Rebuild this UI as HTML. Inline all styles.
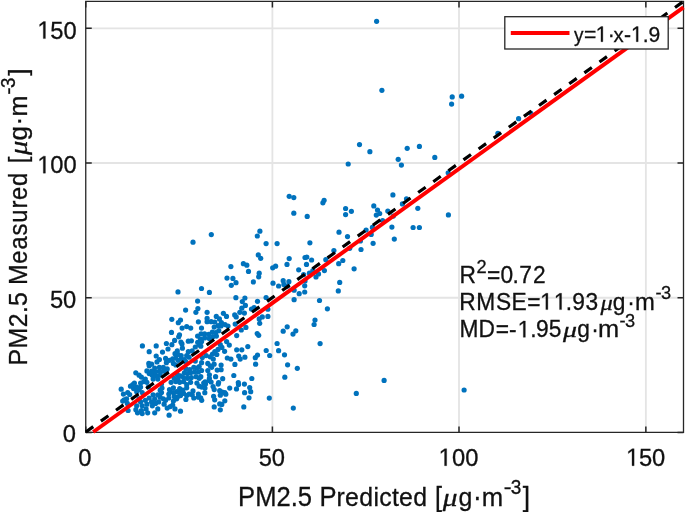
<!DOCTYPE html>
<html><head><meta charset="utf-8"><style>
html,body{margin:0;padding:0;background:#fff;width:685px;height:512px;overflow:hidden}
svg{display:block;will-change:transform}
text{fill:#111;stroke:#111;stroke-width:0.3px}
</style></head><body>
<svg width="685" height="512" viewBox="0 0 685 512">
<rect x="0" y="0" width="685" height="512" fill="#fff"/>
<path d="M272.40 1.40V432.45 M85.75 297.75H683.50 M459.00 1.40V432.45 M85.75 163.00H683.50 M645.85 1.40V432.45 M85.75 28.35H683.50" stroke="#e4e4e4" stroke-width="1.8" fill="none"/>
<g fill="#0072bd"><circle cx="169.5" cy="389.5" r="2.6"/><circle cx="161.5" cy="392.5" r="2.6"/><circle cx="162.0" cy="388.0" r="2.6"/><circle cx="161.5" cy="384.0" r="2.6"/><circle cx="233.8" cy="375.5" r="2.6"/><circle cx="222.7" cy="378.7" r="2.6"/><circle cx="215.6" cy="376.7" r="2.6"/><circle cx="209.4" cy="378.3" r="2.6"/><circle cx="209.4" cy="374.8" r="2.6"/><circle cx="200.8" cy="376.7" r="2.6"/><circle cx="207.8" cy="370.5" r="2.6"/><circle cx="201.6" cy="370.5" r="2.6"/><circle cx="221.1" cy="369.7" r="2.6"/><circle cx="217.2" cy="370.1" r="2.6"/><circle cx="221.1" cy="365.0" r="2.6"/><circle cx="211.7" cy="367.3" r="2.6"/><circle cx="214.1" cy="364.2" r="2.6"/><circle cx="210.2" cy="365.8" r="2.6"/><circle cx="207.8" cy="363.4" r="2.6"/><circle cx="201.6" cy="362.7" r="2.6"/><circle cx="234.9" cy="364.4" r="2.6"/><circle cx="244.9" cy="357.2" r="2.6"/><circle cx="240.2" cy="359.1" r="2.6"/><circle cx="238.7" cy="356.0" r="2.6"/><circle cx="230.9" cy="359.1" r="2.6"/><circle cx="227.3" cy="358.0" r="2.6"/><circle cx="247.8" cy="346.6" r="2.6"/><circle cx="241.8" cy="349.8" r="2.6"/><circle cx="236.7" cy="349.8" r="2.6"/><circle cx="229.3" cy="345.1" r="2.6"/><circle cx="226.6" cy="341.6" r="2.6"/><circle cx="224.6" cy="351.3" r="2.6"/><circle cx="202.3" cy="357.6" r="2.6"/><circle cx="206.2" cy="355.6" r="2.6"/><circle cx="213.3" cy="359.1" r="2.6"/><circle cx="210.2" cy="356.8" r="2.6"/><circle cx="212.5" cy="354.1" r="2.6"/><circle cx="216.8" cy="354.5" r="2.6"/><circle cx="214.8" cy="351.7" r="2.6"/><circle cx="218.0" cy="349.4" r="2.6"/><circle cx="221.9" cy="347.4" r="2.6"/><circle cx="220.3" cy="344.7" r="2.6"/><circle cx="201.6" cy="341.6" r="2.6"/><circle cx="200.8" cy="346.2" r="2.6"/><circle cx="145.3" cy="379.1" r="2.6"/><circle cx="141.4" cy="377.1" r="2.6"/><circle cx="139.1" cy="375.2" r="2.6"/><circle cx="135.8" cy="372.8" r="2.6"/><circle cx="149.2" cy="373.6" r="2.6"/><circle cx="146.9" cy="370.9" r="2.6"/><circle cx="149.2" cy="365.8" r="2.6"/><circle cx="148.8" cy="363.4" r="2.6"/><circle cx="149.2" cy="351.7" r="2.6"/><circle cx="142.4" cy="345.9" r="2.6"/><circle cx="178.1" cy="379.1" r="2.6"/><circle cx="174.2" cy="378.3" r="2.6"/><circle cx="199.2" cy="378.3" r="2.6"/><circle cx="196.1" cy="376.7" r="2.6"/><circle cx="191.4" cy="377.5" r="2.6"/><circle cx="187.5" cy="378.3" r="2.6"/><circle cx="183.6" cy="377.5" r="2.6"/><circle cx="180.5" cy="375.9" r="2.6"/><circle cx="177.3" cy="374.4" r="2.6"/><circle cx="198.4" cy="372.0" r="2.6"/><circle cx="194.5" cy="372.0" r="2.6"/><circle cx="190.6" cy="372.8" r="2.6"/><circle cx="187.5" cy="373.6" r="2.6"/><circle cx="184.4" cy="372.8" r="2.6"/><circle cx="199.2" cy="366.6" r="2.6"/><circle cx="196.9" cy="368.1" r="2.6"/><circle cx="193.8" cy="367.3" r="2.6"/><circle cx="189.8" cy="369.7" r="2.6"/><circle cx="185.9" cy="368.9" r="2.6"/><circle cx="157.8" cy="379.1" r="2.6"/><circle cx="153.1" cy="379.1" r="2.6"/><circle cx="160.2" cy="375.2" r="2.6"/><circle cx="156.2" cy="375.9" r="2.6"/><circle cx="152.3" cy="375.2" r="2.6"/><circle cx="166.4" cy="372.0" r="2.6"/><circle cx="163.3" cy="371.2" r="2.6"/><circle cx="159.4" cy="371.2" r="2.6"/><circle cx="155.5" cy="372.0" r="2.6"/><circle cx="151.6" cy="371.2" r="2.6"/><circle cx="167.2" cy="368.9" r="2.6"/><circle cx="163.3" cy="367.3" r="2.6"/><circle cx="159.4" cy="367.3" r="2.6"/><circle cx="154.7" cy="368.1" r="2.6"/><circle cx="195.3" cy="361.1" r="2.6"/><circle cx="151.6" cy="364.2" r="2.6"/><circle cx="175.8" cy="365.0" r="2.6"/><circle cx="173.4" cy="363.4" r="2.6"/><circle cx="166.4" cy="362.7" r="2.6"/><circle cx="185.9" cy="361.9" r="2.6"/><circle cx="184.4" cy="359.5" r="2.6"/><circle cx="181.2" cy="358.8" r="2.6"/><circle cx="178.1" cy="360.3" r="2.6"/><circle cx="175.8" cy="358.0" r="2.6"/><circle cx="172.7" cy="358.8" r="2.6"/><circle cx="169.5" cy="360.3" r="2.6"/><circle cx="157.0" cy="361.9" r="2.6"/><circle cx="159.4" cy="359.5" r="2.6"/><circle cx="165.6" cy="358.4" r="2.6"/><circle cx="189.1" cy="357.2" r="2.6"/><circle cx="186.7" cy="355.6" r="2.6"/><circle cx="181.2" cy="355.6" r="2.6"/><circle cx="178.1" cy="354.5" r="2.6"/><circle cx="175.0" cy="353.7" r="2.6"/><circle cx="156.2" cy="356.0" r="2.6"/><circle cx="192.2" cy="350.9" r="2.6"/><circle cx="188.3" cy="351.7" r="2.6"/><circle cx="177.3" cy="350.9" r="2.6"/><circle cx="162.5" cy="352.1" r="2.6"/><circle cx="195.3" cy="347.0" r="2.6"/><circle cx="182.4" cy="348.2" r="2.6"/><circle cx="199.2" cy="344.7" r="2.6"/><circle cx="197.7" cy="342.3" r="2.6"/><circle cx="191.4" cy="340.8" r="2.6"/><circle cx="188.3" cy="341.2" r="2.6"/><circle cx="182.0" cy="343.9" r="2.6"/><circle cx="180.9" cy="342.0" r="2.6"/><circle cx="174.6" cy="340.4" r="2.6"/><circle cx="168.0" cy="349.0" r="2.6"/><circle cx="171.9" cy="344.7" r="2.6"/><circle cx="166.4" cy="343.5" r="2.6"/><circle cx="156.2" cy="345.9" r="2.6"/><circle cx="198.4" cy="397.2" r="2.6"/><circle cx="193.8" cy="398.0" r="2.6"/><circle cx="192.2" cy="394.8" r="2.6"/><circle cx="185.9" cy="399.5" r="2.6"/><circle cx="189.1" cy="394.1" r="2.6"/><circle cx="186.7" cy="395.6" r="2.6"/><circle cx="183.6" cy="393.3" r="2.6"/><circle cx="169.1" cy="415.2" r="2.6"/><circle cx="180.5" cy="411.2" r="2.6"/><circle cx="175.0" cy="408.9" r="2.6"/><circle cx="170.3" cy="406.6" r="2.6"/><circle cx="167.2" cy="408.1" r="2.6"/><circle cx="172.7" cy="405.0" r="2.6"/><circle cx="176.6" cy="398.8" r="2.6"/><circle cx="173.4" cy="401.1" r="2.6"/><circle cx="180.5" cy="395.6" r="2.6"/><circle cx="177.3" cy="397.2" r="2.6"/><circle cx="174.2" cy="396.4" r="2.6"/><circle cx="179.7" cy="393.3" r="2.6"/><circle cx="176.6" cy="391.7" r="2.6"/><circle cx="173.4" cy="392.5" r="2.6"/><circle cx="157.8" cy="408.9" r="2.6"/><circle cx="154.7" cy="412.8" r="2.6"/><circle cx="170.3" cy="391.7" r="2.6"/><circle cx="168.8" cy="394.1" r="2.6"/><circle cx="168.8" cy="398.0" r="2.6"/><circle cx="164.1" cy="404.2" r="2.6"/><circle cx="165.6" cy="400.3" r="2.6"/><circle cx="163.3" cy="398.8" r="2.6"/><circle cx="152.3" cy="405.8" r="2.6"/><circle cx="158.6" cy="401.9" r="2.6"/><circle cx="155.5" cy="403.4" r="2.6"/><circle cx="151.6" cy="401.9" r="2.6"/><circle cx="160.2" cy="397.2" r="2.6"/><circle cx="157.8" cy="394.8" r="2.6"/><circle cx="154.7" cy="398.8" r="2.6"/><circle cx="153.1" cy="394.8" r="2.6"/><circle cx="160.2" cy="390.2" r="2.6"/><circle cx="198.4" cy="394.1" r="2.6"/><circle cx="193.0" cy="390.9" r="2.6"/><circle cx="186.7" cy="387.8" r="2.6"/><circle cx="182.8" cy="390.2" r="2.6"/><circle cx="179.7" cy="388.6" r="2.6"/><circle cx="173.4" cy="387.8" r="2.6"/><circle cx="199.2" cy="386.2" r="2.6"/><circle cx="196.9" cy="383.1" r="2.6"/><circle cx="190.6" cy="382.3" r="2.6"/><circle cx="186.7" cy="384.7" r="2.6"/><circle cx="183.6" cy="381.6" r="2.6"/><circle cx="179.7" cy="382.3" r="2.6"/><circle cx="175.8" cy="381.6" r="2.6"/><circle cx="171.1" cy="382.3" r="2.6"/><circle cx="139.1" cy="398.8" r="2.6"/><circle cx="149.2" cy="398.0" r="2.6"/><circle cx="147.7" cy="412.8" r="2.6"/><circle cx="146.1" cy="408.9" r="2.6"/><circle cx="146.9" cy="404.2" r="2.6"/><circle cx="145.3" cy="400.3" r="2.6"/><circle cx="142.2" cy="413.6" r="2.6"/><circle cx="141.4" cy="410.5" r="2.6"/><circle cx="142.2" cy="405.8" r="2.6"/><circle cx="140.6" cy="401.9" r="2.6"/><circle cx="137.5" cy="412.8" r="2.6"/><circle cx="135.9" cy="409.7" r="2.6"/><circle cx="136.7" cy="405.8" r="2.6"/><circle cx="148.4" cy="387.0" r="2.6"/><circle cx="146.9" cy="382.3" r="2.6"/><circle cx="142.2" cy="392.5" r="2.6"/><circle cx="143.8" cy="381.6" r="2.6"/><circle cx="140.6" cy="383.1" r="2.6"/><circle cx="140.6" cy="387.0" r="2.6"/><circle cx="139.1" cy="389.4" r="2.6"/><circle cx="136.7" cy="391.7" r="2.6"/><circle cx="133.6" cy="388.6" r="2.6"/><circle cx="136.7" cy="387.0" r="2.6"/><circle cx="134.4" cy="383.1" r="2.6"/><circle cx="132.8" cy="384.7" r="2.6"/><circle cx="130.5" cy="386.2" r="2.6"/><circle cx="128.1" cy="410.5" r="2.6"/><circle cx="127.3" cy="403.4" r="2.6"/><circle cx="126.6" cy="398.8" r="2.6"/><circle cx="124.2" cy="399.9" r="2.6"/><circle cx="122.7" cy="401.1" r="2.6"/><circle cx="129.7" cy="394.5" r="2.6"/><circle cx="127.7" cy="392.5" r="2.6"/><circle cx="123.4" cy="394.1" r="2.6"/><circle cx="121.2" cy="389.2" r="2.6"/><circle cx="201.7" cy="400.3" r="2.6"/><circle cx="200.7" cy="397.8" r="2.6"/><circle cx="201.7" cy="387.1" r="2.6"/><circle cx="204.8" cy="392.7" r="2.6"/><circle cx="203.7" cy="383.0" r="2.6"/><circle cx="243.8" cy="406.9" r="2.6"/><circle cx="249.0" cy="397.8" r="2.6"/><circle cx="250.7" cy="391.7" r="2.6"/><circle cx="249.7" cy="387.6" r="2.6"/><circle cx="244.6" cy="392.7" r="2.6"/><circle cx="244.4" cy="384.1" r="2.6"/><circle cx="236.5" cy="388.9" r="2.6"/><circle cx="238.5" cy="384.6" r="2.6"/><circle cx="229.7" cy="388.1" r="2.6"/><circle cx="220.3" cy="409.8" r="2.6"/><circle cx="214.2" cy="406.9" r="2.6"/><circle cx="221.8" cy="404.4" r="2.6"/><circle cx="219.7" cy="403.9" r="2.6"/><circle cx="224.8" cy="400.8" r="2.6"/><circle cx="214.7" cy="399.8" r="2.6"/><circle cx="213.6" cy="396.3" r="2.6"/><circle cx="220.3" cy="395.2" r="2.6"/><circle cx="225.8" cy="394.2" r="2.6"/><circle cx="224.8" cy="392.7" r="2.6"/><circle cx="222.3" cy="392.2" r="2.6"/><circle cx="219.7" cy="390.7" r="2.6"/><circle cx="218.2" cy="384.1" r="2.6"/><circle cx="214.2" cy="389.6" r="2.6"/><circle cx="213.1" cy="386.6" r="2.6"/><circle cx="205.0" cy="388.1" r="2.6"/><circle cx="205.5" cy="384.1" r="2.6"/><circle cx="211.1" cy="382.0" r="2.6"/><circle cx="209.1" cy="380.5" r="2.6"/><circle cx="269.3" cy="398.1" r="2.6"/><circle cx="284.8" cy="377.2" r="2.6"/><circle cx="297.3" cy="368.3" r="2.6"/><circle cx="287.6" cy="364.8" r="2.6"/><circle cx="284.5" cy="354.8" r="2.6"/><circle cx="278.6" cy="350.7" r="2.6"/><circle cx="255.6" cy="364.2" r="2.6"/><circle cx="255.3" cy="357.7" r="2.6"/><circle cx="257.5" cy="355.1" r="2.6"/><circle cx="269.7" cy="355.5" r="2.6"/><circle cx="266.2" cy="350.5" r="2.6"/><circle cx="238.3" cy="382.5" r="2.6"/><circle cx="218.6" cy="382.5" r="2.6"/><circle cx="205.1" cy="381.8" r="2.6"/><circle cx="251.8" cy="378.5" r="2.6"/><circle cx="200.5" cy="339.1" r="2.6"/><circle cx="204.6" cy="337.9" r="2.6"/><circle cx="209.3" cy="338.5" r="2.6"/><circle cx="212.8" cy="336.7" r="2.6"/><circle cx="216.4" cy="336.1" r="2.6"/><circle cx="215.8" cy="332.6" r="2.6"/><circle cx="212.3" cy="332.0" r="2.6"/><circle cx="208.7" cy="334.4" r="2.6"/><circle cx="204.6" cy="333.8" r="2.6"/><circle cx="201.1" cy="333.8" r="2.6"/><circle cx="197.6" cy="336.1" r="2.6"/><circle cx="221.0" cy="325.9" r="2.6"/><circle cx="218.1" cy="325.6" r="2.6"/><circle cx="178.7" cy="336.8" r="2.6"/><circle cx="179.5" cy="334.8" r="2.6"/><circle cx="171.5" cy="332.4" r="2.6"/><circle cx="201.5" cy="328.1" r="2.6"/><circle cx="190.7" cy="328.1" r="2.6"/><circle cx="186.7" cy="326.6" r="2.6"/><circle cx="182.1" cy="328.1" r="2.6"/><circle cx="218.8" cy="330.7" r="2.6"/><circle cx="214.2" cy="327.1" r="2.6"/><circle cx="225.0" cy="324.6" r="2.6"/><circle cx="221.4" cy="322.5" r="2.6"/><circle cx="219.4" cy="318.9" r="2.6"/><circle cx="216.3" cy="316.4" r="2.6"/><circle cx="214.8" cy="322.0" r="2.6"/><circle cx="211.2" cy="321.7" r="2.6"/><circle cx="207.1" cy="321.7" r="2.6"/><circle cx="207.1" cy="318.4" r="2.6"/><circle cx="198.4" cy="321.8" r="2.6"/><circle cx="178.3" cy="322.7" r="2.6"/><circle cx="180.5" cy="320.0" r="2.6"/><circle cx="171.8" cy="319.3" r="2.6"/><circle cx="223.4" cy="313.3" r="2.6"/><circle cx="207.1" cy="312.3" r="2.6"/><circle cx="195.9" cy="312.3" r="2.6"/><circle cx="197.9" cy="308.5" r="2.6"/><circle cx="185.6" cy="310.1" r="2.6"/><circle cx="277.1" cy="343.5" r="2.6"/><circle cx="283.2" cy="331.2" r="2.6"/><circle cx="236.7" cy="335.6" r="2.6"/><circle cx="258.7" cy="335.3" r="2.6"/><circle cx="257.2" cy="333.6" r="2.6"/><circle cx="241.3" cy="330.0" r="2.6"/><circle cx="245.9" cy="327.4" r="2.6"/><circle cx="228.0" cy="326.1" r="2.6"/><circle cx="235.2" cy="324.1" r="2.6"/><circle cx="259.7" cy="323.3" r="2.6"/><circle cx="259.2" cy="318.9" r="2.6"/><circle cx="267.9" cy="316.4" r="2.6"/><circle cx="262.3" cy="316.9" r="2.6"/><circle cx="226.5" cy="316.4" r="2.6"/><circle cx="236.2" cy="316.9" r="2.6"/><circle cx="234.7" cy="314.9" r="2.6"/><circle cx="267.9" cy="309.2" r="2.6"/><circle cx="254.1" cy="307.7" r="2.6"/><circle cx="251.5" cy="309.0" r="2.6"/><circle cx="244.4" cy="313.1" r="2.6"/><circle cx="239.8" cy="312.3" r="2.6"/><circle cx="241.8" cy="308.2" r="2.6"/><circle cx="245.4" cy="305.4" r="2.6"/><circle cx="197.6" cy="301.1" r="2.6"/><circle cx="209.4" cy="292.4" r="2.6"/><circle cx="201.5" cy="288.5" r="2.6"/><circle cx="178.0" cy="291.9" r="2.6"/><circle cx="257.5" cy="301.3" r="2.6"/><circle cx="242.3" cy="301.6" r="2.6"/><circle cx="266.1" cy="297.5" r="2.6"/><circle cx="244.9" cy="298.0" r="2.6"/><circle cx="235.9" cy="297.7" r="2.6"/><circle cx="283.9" cy="284.4" r="2.6"/><circle cx="283.2" cy="280.7" r="2.6"/><circle cx="278.6" cy="286.0" r="2.6"/><circle cx="273.0" cy="283.2" r="2.6"/><circle cx="253.4" cy="281.9" r="2.6"/><circle cx="231.3" cy="285.3" r="2.6"/><circle cx="236.0" cy="282.7" r="2.6"/><circle cx="232.9" cy="278.4" r="2.6"/><circle cx="227.0" cy="278.1" r="2.6"/><circle cx="258.7" cy="276.8" r="2.6"/><circle cx="293.3" cy="408.1" r="2.6"/><circle cx="356.3" cy="393.4" r="2.6"/><circle cx="384.1" cy="380.4" r="2.6"/><circle cx="320.1" cy="343.6" r="2.6"/><circle cx="293.0" cy="334.1" r="2.6"/><circle cx="295.8" cy="330.8" r="2.6"/><circle cx="287.2" cy="326.8" r="2.6"/><circle cx="314.1" cy="324.5" r="2.6"/><circle cx="315.0" cy="320.1" r="2.6"/><circle cx="327.4" cy="308.8" r="2.6"/><circle cx="319.5" cy="300.5" r="2.6"/><circle cx="294.1" cy="299.7" r="2.6"/><circle cx="338.3" cy="290.9" r="2.6"/><circle cx="339.7" cy="282.4" r="2.6"/><circle cx="304.7" cy="292.0" r="2.6"/><circle cx="299.2" cy="293.7" r="2.6"/><circle cx="294.1" cy="290.2" r="2.6"/><circle cx="305.0" cy="281.0" r="2.6"/><circle cx="304.7" cy="285.8" r="2.6"/><circle cx="287.5" cy="286.1" r="2.6"/><circle cx="288.9" cy="281.7" r="2.6"/><circle cx="316.0" cy="277.0" r="2.6"/><circle cx="312.8" cy="270.7" r="2.6"/><circle cx="275.6" cy="266.2" r="2.6"/><circle cx="272.7" cy="267.8" r="2.6"/><circle cx="259.2" cy="273.2" r="2.6"/><circle cx="248.5" cy="271.4" r="2.6"/><circle cx="246.8" cy="265.2" r="2.6"/><circle cx="243.4" cy="263.7" r="2.6"/><circle cx="230.9" cy="266.6" r="2.6"/><circle cx="260.7" cy="258.3" r="2.6"/><circle cx="258.3" cy="254.9" r="2.6"/><circle cx="277.1" cy="243.6" r="2.6"/><circle cx="266.1" cy="243.6" r="2.6"/><circle cx="257.3" cy="236.0" r="2.6"/><circle cx="259.9" cy="231.2" r="2.6"/><circle cx="193.0" cy="242.2" r="2.6"/><circle cx="211.3" cy="234.6" r="2.6"/><circle cx="303.6" cy="274.7" r="2.6"/><circle cx="318.5" cy="273.9" r="2.6"/><circle cx="309.4" cy="273.2" r="2.6"/><circle cx="324.4" cy="270.6" r="2.6"/><circle cx="298.7" cy="269.8" r="2.6"/><circle cx="354.1" cy="268.8" r="2.6"/><circle cx="338.7" cy="263.7" r="2.6"/><circle cx="342.8" cy="260.5" r="2.6"/><circle cx="325.8" cy="259.7" r="2.6"/><circle cx="306.5" cy="264.4" r="2.6"/><circle cx="311.6" cy="260.0" r="2.6"/><circle cx="306.8" cy="257.1" r="2.6"/><circle cx="305.0" cy="257.5" r="2.6"/><circle cx="287.0" cy="264.4" r="2.6"/><circle cx="289.2" cy="258.6" r="2.6"/><circle cx="333.9" cy="250.5" r="2.6"/><circle cx="349.7" cy="248.3" r="2.6"/><circle cx="361.0" cy="249.5" r="2.6"/><circle cx="309.9" cy="242.8" r="2.6"/><circle cx="373.1" cy="243.3" r="2.6"/><circle cx="360.4" cy="241.0" r="2.6"/><circle cx="371.2" cy="234.4" r="2.6"/><circle cx="372.4" cy="227.4" r="2.6"/><circle cx="366.1" cy="230.0" r="2.6"/><circle cx="347.5" cy="236.6" r="2.6"/><circle cx="339.0" cy="232.2" r="2.6"/><circle cx="382.6" cy="220.5" r="2.6"/><circle cx="376.3" cy="215.1" r="2.6"/><circle cx="379.7" cy="213.5" r="2.6"/><circle cx="377.5" cy="210.0" r="2.6"/><circle cx="373.8" cy="205.9" r="2.6"/><circle cx="345.6" cy="214.6" r="2.6"/><circle cx="351.4" cy="211.3" r="2.6"/><circle cx="345.6" cy="208.5" r="2.6"/><circle cx="307.2" cy="216.4" r="2.6"/><circle cx="293.8" cy="213.2" r="2.6"/><circle cx="394.3" cy="239.1" r="2.6"/><circle cx="419.4" cy="227.5" r="2.6"/><circle cx="413.1" cy="227.5" r="2.6"/><circle cx="391.9" cy="227.1" r="2.6"/><circle cx="448.4" cy="214.9" r="2.6"/><circle cx="417.8" cy="208.3" r="2.6"/><circle cx="393.3" cy="216.1" r="2.6"/><circle cx="387.8" cy="211.0" r="2.6"/><circle cx="402.4" cy="203.9" r="2.6"/><circle cx="406.5" cy="198.8" r="2.6"/><circle cx="392.9" cy="194.9" r="2.6"/><circle cx="448.2" cy="172.8" r="2.6"/><circle cx="401.4" cy="165.1" r="2.6"/><circle cx="398.2" cy="159.3" r="2.6"/><circle cx="434.8" cy="157.4" r="2.6"/><circle cx="419.4" cy="146.4" r="2.6"/><circle cx="407.2" cy="148.3" r="2.6"/><circle cx="322.9" cy="202.8" r="2.6"/><circle cx="324.1" cy="200.3" r="2.6"/><circle cx="293.8" cy="197.6" r="2.6"/><circle cx="289.2" cy="196.3" r="2.6"/><circle cx="348.2" cy="164.0" r="2.6"/><circle cx="369.9" cy="151.7" r="2.6"/><circle cx="359.5" cy="144.6" r="2.6"/><circle cx="464.1" cy="390.0" r="2.6"/><circle cx="530.7" cy="113.1" r="2.6"/><circle cx="497.9" cy="133.3" r="2.6"/><circle cx="518.6" cy="118.7" r="2.6"/><circle cx="451.6" cy="104.1" r="2.6"/><circle cx="461.6" cy="96.2" r="2.6"/><circle cx="452.2" cy="96.9" r="2.6"/><circle cx="381.9" cy="90.3" r="2.6"/><circle cx="376.6" cy="21.3" r="2.6"/></g>
<path d="M85.75 432.45v-6.0 M85.75 1.40v6.0 M85.75 432.45h6.0 M683.50 432.45h-6.0 M272.40 432.45v-6.0 M272.40 1.40v6.0 M85.75 297.75h6.0 M683.50 297.75h-6.0 M459.00 432.45v-6.0 M459.00 1.40v6.0 M85.75 163.00h6.0 M683.50 163.00h-6.0 M645.85 432.45v-6.0 M645.85 1.40v6.0 M85.75 28.35h6.0 M683.50 28.35h-6.0" stroke="#262626" stroke-width="1.5" fill="none"/>
<path d="M85.75 1.4H683.5V432.45H85.75Z" stroke="#262626" stroke-width="1.3" fill="none" stroke-linejoin="miter"/>
<line x1="85.80" y1="432.00" x2="683.40" y2="1.50" stroke="#000" stroke-width="3.2" stroke-dasharray="9.2 9.42"/><line x1="93.2" y1="432.0" x2="683.5" y2="7.31" stroke="#f00" stroke-width="4"/>
<text transform="scale(0.96 1)" x="65.49" y="442.20" font-size="24.7" font-family="'Liberation Sans', sans-serif">0</text><text transform="scale(0.96 1)" x="52.03 65.77" y="307.67" font-size="24.7" font-family="'Liberation Sans', sans-serif">50</text><text transform="scale(0.96 1)" x="52.47 66.03" y="173.14" font-size="24.7" font-family="'Liberation Sans', sans-serif">00</text><path d="M515 0L696 0L696 1409L530 1409L197 1180L197 1010L515 1237Z" transform="translate(37.35 173.14) scale(0.01158 -0.01206)" fill="#111" stroke="#111" stroke-width="0.3" vector-effect="non-scaling-stroke"/><text transform="scale(0.96 1)" x="52.47 66.03" y="38.61" font-size="24.7" font-family="'Liberation Sans', sans-serif">50</text><path d="M515 0L696 0L696 1409L530 1409L197 1180L197 1010L515 1237Z" transform="translate(37.35 38.61) scale(0.01158 -0.01206)" fill="#111" stroke="#111" stroke-width="0.3" vector-effect="non-scaling-stroke"/><text transform="scale(0.96 1)" x="81.61" y="465.70" font-size="24.7" font-family="'Liberation Sans', sans-serif">0</text><text transform="scale(0.96 1)" x="269.65 283.17" y="465.70" font-size="24.7" font-family="'Liberation Sans', sans-serif">50</text><text transform="scale(0.96 1)" x="470.77 484.68" y="465.70" font-size="24.7" font-family="'Liberation Sans', sans-serif">00</text><path d="M515 0L696 0L696 1409L530 1409L197 1180L197 1010L515 1237Z" transform="translate(438.59 465.70) scale(0.01158 -0.01206)" fill="#111" stroke="#111" stroke-width="0.3" vector-effect="non-scaling-stroke"/><text transform="scale(0.96 1)" x="665.64 679.12" y="465.70" font-size="24.7" font-family="'Liberation Sans', sans-serif">50</text><path d="M515 0L696 0L696 1409L530 1409L197 1180L197 1010L515 1237Z" transform="translate(626.06 465.70) scale(0.01158 -0.01206)" fill="#111" stroke="#111" stroke-width="0.3" vector-effect="non-scaling-stroke"/>
<text transform="scale(0.94 1)" x="253.30 271.46 294.14 309.29 316.85" y="505.70" font-size="27.2" font-family="'Liberation Sans', sans-serif">PM2.5</text><text transform="scale(0.94 1)" x="340.01 358.10 367.14 382.23 397.31 403.34 416.91 424.44 439.53" y="505.70" font-size="27.2" font-family="'Liberation Sans', sans-serif">P<tspan font-size="26.4">redicted</tspan></text><text transform="scale(0.925 1)" x="470.17" y="505.70" font-size="27.2" font-family="'Liberation Sans', sans-serif">[</text><text transform="scale(1.1752 1)" x="376.81" y="505.70" font-size="25" font-style="italic" font-family="'Liberation Serif', serif">μ</text><text transform="scale(0.9434 1)" x="485.96" y="505.70" font-size="26.4" font-family="'Liberation Sans', sans-serif">g</text><text transform="scale(0.96 1)" x="492.67" y="505.70" font-size="27.2" font-family="'Liberation Sans', sans-serif">·</text><text transform="scale(0.9731 1)" x="495.11" y="505.70" font-size="26.4" font-family="'Liberation Sans', sans-serif">m</text><text transform="scale(1.1973 1)" x="420.75" y="493.90" font-size="19.5" font-family="'Liberation Sans', sans-serif">-</text><text transform="scale(0.9735 1)" x="524.68" y="493.90" font-size="19.5" font-family="'Liberation Sans', sans-serif">3</text><text transform="scale(0.962 1)" x="543.34" y="505.70" font-size="27.2" font-family="'Liberation Sans', sans-serif">]</text>
<g transform="translate(26.5 0) rotate(-90)"><text transform="scale(0.94 1)" x="-388.93 -370.80 -348.15 -333.02 -325.47" y="0.00" font-size="26.4" font-family="'Liberation Sans', sans-serif">PM2.5</text><text transform="scale(0.94 1)" x="-303.07 -280.55 -265.51 -250.47 -236.95 -221.91 -212.91 -197.87" y="0.00" font-size="26.4" font-family="'Liberation Sans', sans-serif">M<tspan font-size="25.3">easured</tspan></text><text transform="scale(0.8958 1)" x="-182.28" y="0.00" font-size="26.4" font-family="'Liberation Sans', sans-serif">[</text><text transform="scale(1.1411 1)" x="-135.90" y="0.00" font-size="25" font-style="italic" font-family="'Liberation Serif', serif">μ</text><text transform="scale(1.0283 1)" x="-136.53" y="0.00" font-size="25.3" font-family="'Liberation Sans', sans-serif">g</text><text transform="scale(0.96 1)" x="-130.54" y="0.00" font-size="26.4" font-family="'Liberation Sans', sans-serif">·</text><text transform="scale(0.9928 1)" x="-117.31" y="0.00" font-size="25.3" font-family="'Liberation Sans', sans-serif">m</text><text transform="scale(1.1133 1)" x="-85.03" y="-11.80" font-size="19.5" font-family="'Liberation Sans', sans-serif">-</text><text transform="scale(0.9518 1)" x="-92.36" y="-11.80" font-size="19.5" font-family="'Liberation Sans', sans-serif">3</text><text transform="scale(1.0102 1)" x="-74.94" y="0.00" font-size="26.4" font-family="'Liberation Sans', sans-serif">]</text></g>
<rect x="504.8" y="16.7" width="163.4" height="32.3" fill="#fff" stroke="#262626" stroke-width="1.3"/><line x1="510.8" y1="32.9" x2="569.5" y2="32.9" stroke="#f00" stroke-width="4"/><text transform="scale(0.96 1)" x="608.40" y="41.70" font-size="22" font-family="'Liberation Sans', sans-serif">=</text><path d="M515 0L696 0L696 1409L530 1409L197 1180L197 1010L515 1237Z" transform="translate(595.67 41.70) scale(0.01031 -0.01074)" fill="#111" stroke="#111" stroke-width="0.3" vector-effect="non-scaling-stroke"/><text transform="scale(0.96 1)" x="649.96" y="41.70" font-size="22" font-family="'Liberation Sans', sans-serif">-</text><path d="M515 0L696 0L696 1409L530 1409L197 1180L197 1010L515 1237Z" transform="translate(630.97 41.70) scale(0.01031 -0.01074)" fill="#111" stroke="#111" stroke-width="0.3" vector-effect="non-scaling-stroke"/><text transform="scale(0.96 1)" x="669.45" y="41.70" font-size="22" font-family="'Liberation Sans', sans-serif">.</text><text transform="scale(0.96 1)" x="675.43" y="41.70" font-size="22" font-family="'Liberation Sans', sans-serif">9</text><text transform="scale(0.9032 1)" x="635.58" y="41.70" font-size="21" font-family="'Liberation Sans', sans-serif">y</text><text transform="scale(0.9663 1)" x="634.97" y="41.70" font-size="21" font-family="'Liberation Sans', sans-serif">x</text><text transform="scale(0.96 1)" x="633.01" y="41.70" font-size="22" font-family="'Liberation Sans', sans-serif">·</text>
<text transform="scale(0.96 1)" x="478.58" y="282.80" font-size="23.7" font-family="'Liberation Sans', sans-serif">R</text><text transform="scale(0.96 1)" x="496.44" y="272.60" font-size="19.0" font-family="'Liberation Sans', sans-serif">2</text><text transform="scale(0.96 1)" x="507.38" y="282.80" font-size="23.7" font-family="'Liberation Sans', sans-serif">=</text><text transform="scale(0.96 1)" x="521.37" y="282.80" font-size="23.7" font-family="'Liberation Sans', sans-serif">0</text><text transform="scale(0.96 1)" x="533.77" y="282.80" font-size="23.7" font-family="'Liberation Sans', sans-serif">.</text><text transform="scale(0.96 1)" x="540.87" y="282.80" font-size="23.7" font-family="'Liberation Sans', sans-serif">7</text><text transform="scale(0.96 1)" x="555.27" y="282.80" font-size="23.7" font-family="'Liberation Sans', sans-serif">2</text><text transform="scale(0.96 1)" x="478.51 496.20 516.61 532.94" y="309.60" font-size="23.7" font-family="'Liberation Sans', sans-serif">RMSE</text><text transform="scale(0.96 1)" x="549.16" y="309.60" font-size="23.7" font-family="'Liberation Sans', sans-serif">=</text><path d="M515 0L696 0L696 1409L530 1409L197 1180L197 1010L515 1237Z" transform="translate(540.13 309.60) scale(0.01111 -0.01157)" fill="#111" stroke="#111" stroke-width="0.3" vector-effect="non-scaling-stroke"/><path d="M515 0L696 0L696 1409L530 1409L197 1180L197 1010L515 1237Z" transform="translate(553.83 309.60) scale(0.01111 -0.01157)" fill="#111" stroke="#111" stroke-width="0.3" vector-effect="non-scaling-stroke"/><text transform="scale(0.96 1)" x="589.29" y="309.60" font-size="23.7" font-family="'Liberation Sans', sans-serif">.</text><text transform="scale(0.96 1)" x="596.13 609.91" y="309.60" font-size="23.7" font-family="'Liberation Sans', sans-serif">93</text><text transform="scale(1.1387 1)" x="527.38" y="309.60" font-size="21.5" font-style="italic" font-family="'Liberation Serif', serif">μ</text><text transform="scale(0.96 1)" x="638.17" y="309.60" font-size="23.7" font-family="'Liberation Sans', sans-serif">g</text><text transform="scale(0.96 1)" x="653.35" y="309.60" font-size="23.7" font-family="'Liberation Sans', sans-serif">·</text><text transform="scale(1.0056 1)" x="631.48" y="309.60" font-size="23.7" font-family="'Liberation Sans', sans-serif">m</text><text transform="scale(0.96 1)" x="682.80" y="299.40" font-size="19.0" font-family="'Liberation Sans', sans-serif">-</text><text transform="scale(0.96 1)" x="688.65" y="299.40" font-size="19.0" font-family="'Liberation Sans', sans-serif">3</text><text transform="scale(0.96 1)" x="478.55 498.52" y="337.30" font-size="23.7" font-family="'Liberation Sans', sans-serif">MD</text><text transform="scale(0.96 1)" x="516.34" y="337.30" font-size="23.7" font-family="'Liberation Sans', sans-serif">=</text><text transform="scale(0.96 1)" x="530.09" y="337.30" font-size="23.7" font-family="'Liberation Sans', sans-serif">-</text><path d="M515 0L696 0L696 1409L530 1409L197 1180L197 1010L515 1237Z" transform="translate(517.61 337.30) scale(0.01111 -0.01157)" fill="#111" stroke="#111" stroke-width="0.3" vector-effect="non-scaling-stroke"/><text transform="scale(0.96 1)" x="552.42" y="337.30" font-size="23.7" font-family="'Liberation Sans', sans-serif">.</text><text transform="scale(0.96 1)" x="558.47 571.66" y="337.30" font-size="23.7" font-family="'Liberation Sans', sans-serif">95</text><text transform="scale(1.2971 1)" x="433.99" y="337.30" font-size="21.5" font-style="italic" font-family="'Liberation Serif', serif">μ</text><text transform="scale(0.96 1)" x="601.30" y="337.30" font-size="23.7" font-family="'Liberation Sans', sans-serif">g</text><text transform="scale(0.96 1)" x="615.85" y="337.30" font-size="23.7" font-family="'Liberation Sans', sans-serif">·</text><text transform="scale(1.0719 1)" x="557.90" y="337.30" font-size="23.7" font-family="'Liberation Sans', sans-serif">m</text><text transform="scale(0.96 1)" x="645.20" y="327.30" font-size="19.0" font-family="'Liberation Sans', sans-serif">-</text><text transform="scale(0.96 1)" x="651.15" y="327.30" font-size="19.0" font-family="'Liberation Sans', sans-serif">3</text>
</svg></body></html>
